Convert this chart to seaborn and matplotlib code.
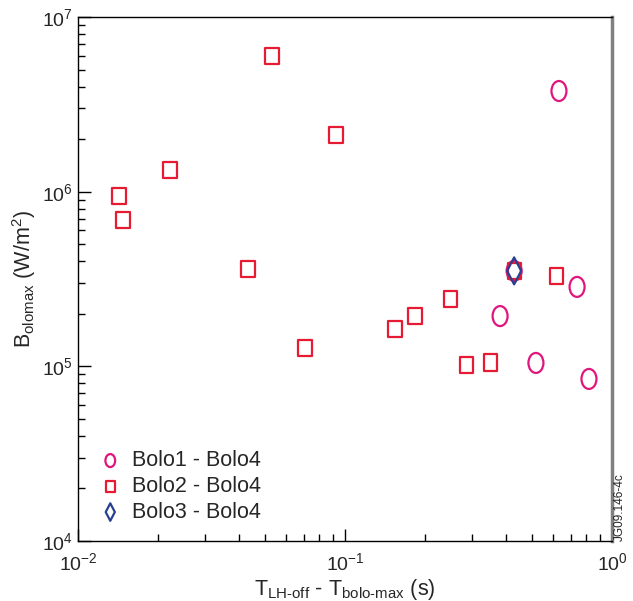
import numpy as np
import pandas as pd
import matplotlib
matplotlib.use("Agg")
import matplotlib.pyplot as plt
import seaborn as sns
from matplotlib.path import Path
from matplotlib.transforms import Affine2D

# Bolo1 - Bolo4
x1 = [0.633, 0.430, 0.740, 0.381, 0.519, 0.820]
y1 = [3.77e6, 3.52e5, 2.85e5, 1.94e5, 1.046e5, 8.47e4]
# Bolo2 - Bolo4
x2 = [0.0533, 0.0925, 0.0221, 0.01425, 0.01474, 0.0433, 0.430, 0.622,
      0.249, 0.183, 0.154, 0.0708, 0.352, 0.286]
y2 = [5.98e6, 2.11e6, 1.33e6, 9.45e5, 6.89e5, 3.61e5, 3.52e5, 3.29e5,
      2.43e5, 1.94e5, 1.64e5, 1.27e5, 1.05e5, 1.02e5]
# Bolo3 - Bolo4
x3 = [0.430]
y3 = [3.52e5]

sns.set_theme(style="ticks")
plt.rcParams['font.family'] = ['Liberation Sans', 'DejaVu Sans']
plt.rcParams['mathtext.fontset'] = 'custom'
plt.rcParams['mathtext.rm'] = 'Liberation Sans'
plt.rcParams['mathtext.it'] = 'Liberation Sans'

ellipse = Affine2D().scale(0.75, 1.0).transform_path(Path.unit_circle())
rect = Path([(-0.8, -1), (0.8, -1), (0.8, 1), (-0.8, 1), (-0.8, -1)],
            [Path.MOVETO, Path.LINETO, Path.LINETO, Path.LINETO, Path.CLOSEPOLY])
diamond = Path([(0, -1), (0.52, 0), (0, 1), (-0.52, 0), (0, -1)],
               [Path.MOVETO, Path.LINETO, Path.LINETO, Path.LINETO, Path.CLOSEPOLY])

fig = plt.figure(figsize=(6.33, 6.01), dpi=100)
ax = fig.add_axes([0.1232, 0.0998, 0.8436, 0.8719])

series = [
    (x1, y1, ellipse, "#e0167c", 207, "Bolo1 - Bolo4"),
    (x2, y2, rect, "#e61a33", 140, "Bolo2 - Bolo4"),
    (x3, y3, diamond, "#2b3f91", 378, "Bolo3 - Bolo4"),
]
for xs, ys, mk, col, s, lab in series:
    df = pd.DataFrame({"x": xs, "y": ys})
    sns.scatterplot(data=df, x="x", y="y", marker=mk, s=s, facecolors="none",
                    edgecolor=col, linewidth=1.6, label=lab, ax=ax, zorder=3)

ax.set_xscale("log")
ax.set_yscale("log")
ax.set_xlim(1e-2, 1)
ax.set_ylim(1e4, 1e7)

ax.tick_params(which="both", direction="in", top=False, right=False,
               labelsize=14, color="black")
ax.tick_params(which="major", length=9, width=1)
ax.tick_params(which="minor", length=5, width=1)
ax.tick_params(axis="x", pad=8)
for side in ["left", "bottom", "top"]:
    ax.spines[side].set_color("black")
    ax.spines[side].set_linewidth(1)
ax.spines["right"].set_color("#808080")
ax.spines["right"].set_linewidth(2.5)

ax.set_xlabel(r"T$_{\mathrm{LH\text{-}off}}$ - T$_{\mathrm{bolo\text{-}max}}$ (s)",
              fontsize=15.5, labelpad=2)
ax.set_ylabel(r"B$_{\mathrm{olomax}}$ (W/m$^{2}$)", fontsize=15.5, labelpad=3)

leg = ax.legend(loc="lower left", bbox_to_anchor=(0.0, -0.002), frameon=False,
                fontsize=15.5, markerscale=0.65, handletextpad=0.4,
                labelspacing=0.22, handlelength=1.2)

fig.text(0.979, 0.1, "JG09.146-4c", rotation=90, fontsize=8.5,
         ha="center", va="bottom")

fig.savefig("out.png", dpi=100)
